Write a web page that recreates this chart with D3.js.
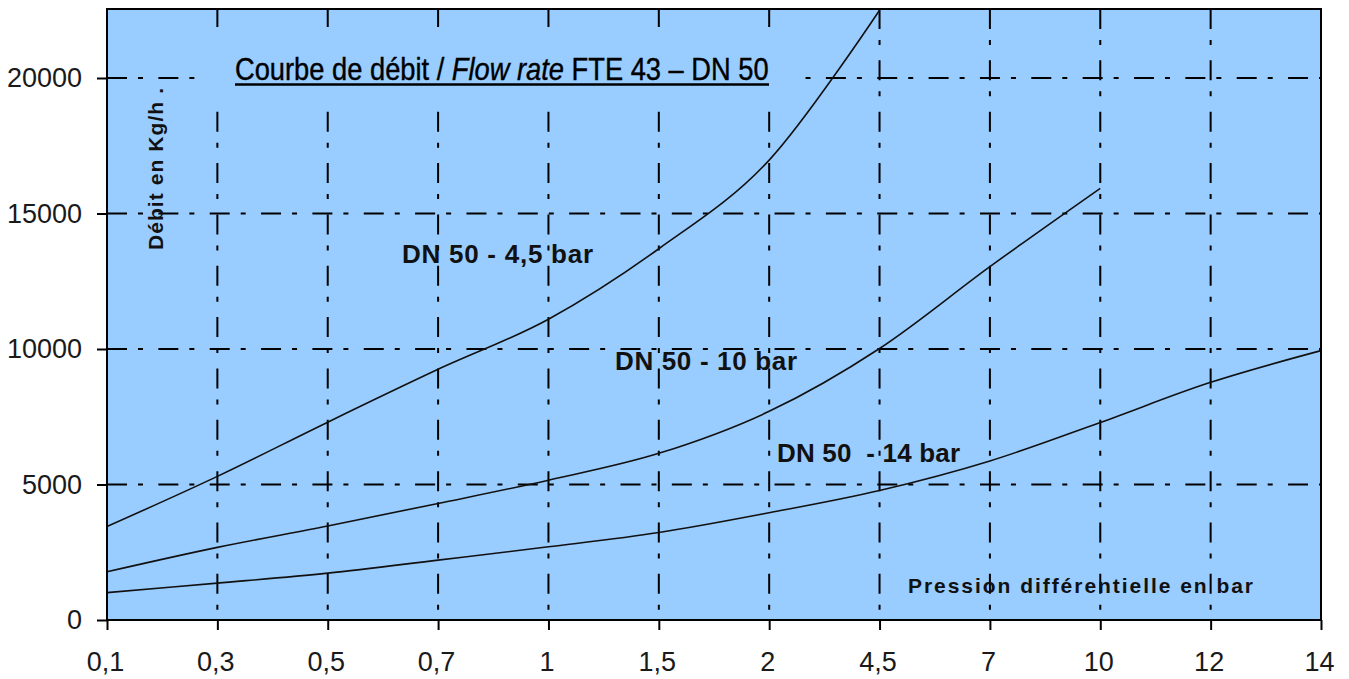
<!DOCTYPE html>
<html>
<head>
<meta charset="utf-8">
<script src="https://cdn.jsdelivr.net/npm/d3@7"></script>
<style>
  html, body { margin: 0; padding: 0; background: #ffffff; }
  svg { display: block; }
</style>
</head>
<body>
<svg id="chart" width="1349" height="679"></svg>
<script>
// ---- data ----
const categories = ["0,1","0,3","0,5","0,7","1","1,5","2","4,5","7","10","12","14"];
const yTicks = [0, 5000, 10000, 15000, 20000];
const dn50_45bar = [3450, 5300, 7300, 9250, 11100, 13700, 16970, 22500];
const dn50_10bar = [1780, 2680, 3470, 4300, 5160, 6150, 7700, 10020, 13040, 15930];
const dn50_14bar = [1010, 1360, 1730, 2210, 2700, 3230, 3960, 4780, 5870, 7290, 8770, 9940];
const seriesLabels = ["DN 50 - 4,5 bar", "DN 50 - 10 bar", "DN 50  - 14 bar"];

(function () {
// ---- layout ----
const svg = d3.select("#chart");
const pLeft = 107, pRight = 1321, pTop = 9, pBottom = 620;
const bg = "#99CCFF";
const font = "'Liberation Sans', Arial, sans-serif";

const x = d3.scalePoint().domain(categories).range([pLeft, pRight]);
const y = d3.scaleLinear().domain([0, 20000]).range([pBottom, 78]);

svg.append("rect").attr("width", 1349).attr("height", 679).attr("fill", "#fff");
svg.append("rect").attr("x", pLeft).attr("y", pTop).attr("width", pRight - pLeft).attr("height", pBottom - pTop).attr("fill", bg);

// gridlines
const dash = "20,11,5,15.35";
const grid = svg.append("g").attr("stroke", "#000").attr("stroke-width", 2).attr("stroke-dasharray", dash);
grid.selectAll("line.h").data(yTicks.filter(d => d > 0)).join("line").attr("class", "h")
  .attr("x1", pLeft).attr("x2", pRight).attr("y1", d => y(d)).attr("y2", d => y(d));
grid.selectAll("line.v").data(categories.slice(1, -1)).join("line").attr("class", "v")
  .attr("x1", d => x(d)).attr("x2", d => x(d)).attr("y1", pTop).attr("y2", pBottom);

// title box (covers the gridlines)
svg.append("rect").attr("x", 197).attr("y", 27).attr("width", 603).attr("height", 84).attr("fill", bg);

// curves
const line = d3.line().x((d, i) => x(categories[i])).y(d => y(d)).curve(d3.curveCardinal.tension(0));
const curves = svg.append("g").attr("fill", "none").attr("stroke", "#111").attr("stroke-width", 1.6);
[dn50_45bar, dn50_10bar, dn50_14bar].forEach(s => curves.append("path").attr("d", line(s)));

// frame
svg.append("rect").attr("x", pLeft).attr("y", pTop).attr("width", pRight - pLeft).attr("height", pBottom - pTop)
  .attr("fill", "none").attr("stroke", "#000").attr("stroke-width", 2);

// axes
const xAxis = svg.append("g").attr("transform", `translate(0,${pBottom})`)
  .call(d3.axisBottom(x).tickSize(10).tickPadding(22));
const yAxis = svg.append("g").attr("transform", `translate(${pLeft},0)`)
  .call(d3.axisLeft(y).tickValues(yTicks).tickFormat(d3.format("d")).tickSize(10).tickPadding(15));
[xAxis, yAxis].forEach(a => {
  a.select(".domain").remove();
  a.selectAll(".tick line").attr("stroke", "#000").attr("stroke-width", 2);
  a.selectAll(".tick text").attr("font-family", font).attr("font-size", 27).attr("fill", "#1a1a1a");
});
xAxis.selectAll(".tick text").attr("dx", "-2");

// title (natural text, scaled horizontally to the reference width)
const titleG = svg.append("g");
const title = titleG.append("text").attr("x", 0).attr("y", 0)
  .attr("font-family", "'Liberation Sans Narrow', 'Liberation Sans', Arial, sans-serif")
  .attr("font-size", 31).attr("fill", "#000").attr("stroke", "#000").attr("stroke-width", 0.4)
  .style("white-space", "pre");
title.append("tspan").text("Courbe de débit / ");
title.append("tspan").attr("font-style", "italic").text("Flow rate");
title.append("tspan").text(" FTE 43 – DN 50");
const natW = title.node().getComputedTextLength() || 534;
titleG.attr("transform", `translate(235,80) scale(${534 / natW},1)`);
svg.append("line").attr("x1", 235).attr("x2", 769).attr("y1", 84.5).attr("y2", 84.5)
  .attr("stroke", "#000").attr("stroke-width", 2.5);

// series labels
const labelPos = [[402, 263, 191], [615, 370, 182], [777, 462, 183]];
seriesLabels.forEach((t, i) => {
  svg.append("text").attr("x", labelPos[i][0]).attr("y", labelPos[i][1])
    .attr("font-family", font).attr("font-weight", "bold").attr("font-size", 26).attr("fill", "#111")
    .attr("textLength", labelPos[i][2]).attr("lengthAdjust", "spacing")
    .style("white-space", "pre").text(t);
});

// axis titles
svg.append("text").attr("x", 908).attr("y", 593)
  .attr("font-family", font).attr("font-weight", "bold").attr("font-size", 21).attr("fill", "#111")
  .attr("textLength", 345).attr("lengthAdjust", "spacing")
  .text("Pression différentielle en bar");
svg.append("text").attr("transform", "translate(163,250) rotate(-90)")
  .attr("font-family", font).attr("font-weight", "bold").attr("font-size", 21).attr("fill", "#111")
  .attr("textLength", 162).attr("lengthAdjust", "spacing")
  .style("white-space", "pre")
  .text("Débit en Kg/h .");
})();
</script>
</body>
</html>
